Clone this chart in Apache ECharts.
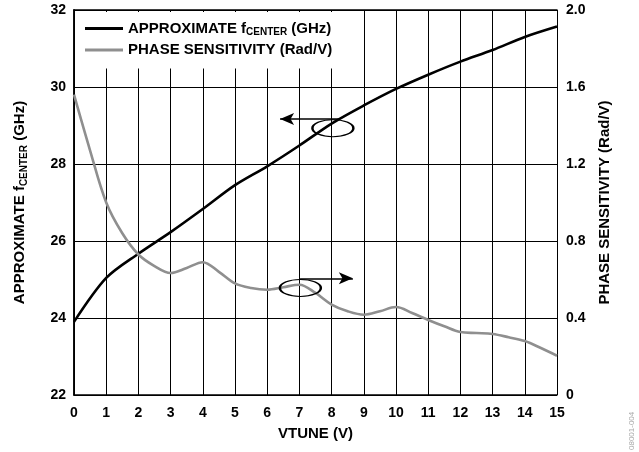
<!DOCTYPE html>
<html>
<head>
<meta charset="utf-8">
<script src="https://cdn.jsdelivr.net/npm/echarts@6/dist/echarts.min.js"></script>
<style>
html,body{margin:0;padding:0;background:#fff;}
#chart{width:639px;height:452px;}
</style>
</head>
<body>
<div id="chart"></div>
<script>
// Data
var vtuneF = [0,1,2,3,4,5,6,7,8,9,10,11,12,13,14,15];
var fCenter = [23.9,25.04,25.67,26.23,26.83,27.45,27.94,28.48,29.05,29.52,29.95,30.32,30.66,30.96,31.3,31.57];
var vtuneP = [0,0.5,1,1.5,2,2.5,3,3.5,4,4.5,5,5.5,6,6.5,7,7.5,8,8.5,9,9.5,10,10.5,11,11.5,12,12.5,13,13.5,14,14.5,15];
var phaseSens = [1.56,1.27,1.0,0.84,0.73,0.67,0.634,0.66,0.69,0.64,0.58,0.556,0.547,0.56,0.573,0.53,0.47,0.435,0.417,0.435,0.457,0.426,0.39,0.357,0.327,0.322,0.317,0.30,0.28,0.244,0.204];
var seriesNames = ['APPROXIMATE fCENTER (GHz)','PHASE SENSITIVITY (Rad/V)'];
// Annotation anchors (data coordinates)
var ellipseF = [8.04, 28.93];
var arrowF = [[8.26, 29.17],[6.4, 29.17]];
var ellipseP = [7.03, 0.556];
var arrowP = [[7.02, 0.606],[8.66, 0.606]];

function pairs(x, y){ return x.map(function(v,i){return [v, y[i]];}); }

var FONT = 'Liberation Sans, Arial, Helvetica, sans-serif';
var chart = echarts.init(document.getElementById('chart'), null, {renderer:'canvas'});
var tick = {color:'#000', fontFamily:FONT, fontWeight:'bold', fontSize:14};
var ttl = {color:'#000', fontFamily:FONT, fontWeight:'bold', fontSize:15};
var rich = {
  a:{color:'#000', fontFamily:FONT, fontWeight:'bold', fontSize:15},
  s:{color:'#000', fontFamily:FONT, fontWeight:'bold', fontSize:10, padding:[8,0,0,0]}
};

var option = {
  animation:false,
  backgroundColor:'#fff',
  grid:{left:74, right:82, top:10, bottom:57, show:false},
  legend:{
    left:75, top:12, orient:'vertical', itemGap:5,
    backgroundColor:'#fff', padding:[9,22,11,10],
    itemWidth:38, itemHeight:3, icon:'rect',
    data:seriesNames,
    textStyle:{color:'#000', fontFamily:FONT, fontWeight:'bold', fontSize:15, rich:rich},
    formatter:function(n){
      if(n===seriesNames[0]) return '{a|APPROXIMATE f}{s|CENTER}{a| (GHz)}';
      return '{a|' + n + '}';
    },
    z:10
  },
  xAxis:[{
    type:'value', min:0, max:15, interval:1, position:'bottom',
    name:'VTUNE (V)', nameLocation:'middle', nameGap:31,
    nameTextStyle:ttl,
    axisLine:{show:true, lineStyle:{color:'#000', width:1.5}},
    axisTick:{show:false},
    axisLabel:Object.assign({margin:11}, tick),
    splitLine:{show:true, lineStyle:{color:'#000', width:1}}
  },{
    type:'value', min:0, max:15, interval:1, position:'top',
    axisLine:{show:true, lineStyle:{color:'#000', width:1.5}},
    axisTick:{show:true, inside:true, length:4, lineStyle:{color:'#000'}},
    axisLabel:{show:false}, splitLine:{show:false}
  }],
  yAxis:[{
    type:'value', min:22, max:32, interval:2, position:'left',
    name:'{a|APPROXIMATE f}{s|CENTER}{a| (GHz)}', nameLocation:'middle', nameGap:45, nameRotate:90,
    nameTextStyle:{rich:rich},
    axisLine:{show:true, lineStyle:{color:'#000', width:1.5}},
    axisTick:{show:false},
    axisLabel:Object.assign({margin:8}, tick),
    splitLine:{show:true, lineStyle:{color:'#000', width:1}}
  },{
    type:'value', min:0, max:2, interval:0.4, position:'right',
    name:'PHASE SENSITIVITY (Rad/V)', nameLocation:'middle', nameGap:40, nameRotate:90,
    nameTextStyle:ttl,
    axisLine:{show:true, lineStyle:{color:'#000', width:1.5}},
    axisTick:{show:false},
    axisLabel:Object.assign({margin:9, formatter:function(v){return v===0?'0':v.toFixed(1);}}, tick),
    splitLine:{show:false}
  }],
  series:[{
    name:seriesNames[0], type:'line', xAxisIndex:0, yAxisIndex:0,
    data:pairs(vtuneF, fCenter), smooth:0.3, showSymbol:false,
    color:'#000', lineStyle:{color:'#000', width:2.6}, z:3,
    markPoint:{silent:true, symbol:'circle', symbolSize:[41,17],
      itemStyle:{color:'rgba(0,0,0,0)', borderColor:'#000', borderWidth:1.6},
      label:{show:false}, data:[{coord:ellipseF}]},
    markLine:{silent:true, symbol:['none','arrow'], symbolSize:[9,14],
      label:{show:false}, lineStyle:{color:'#000', width:1.6, type:'solid'},
      data:[[{coord:arrowF[0]},{coord:arrowF[1]}]]}
  },{
    name:seriesNames[1], type:'line', xAxisIndex:0, yAxisIndex:1,
    data:pairs(vtuneP, phaseSens), smooth:0.35, showSymbol:false,
    color:'#8f8f8f', lineStyle:{color:'#8f8f8f', width:2.6}, z:3,
    markPoint:{silent:true, symbol:'circle', symbolSize:[41,17],
      itemStyle:{color:'rgba(0,0,0,0)', borderColor:'#000', borderWidth:1.6},
      label:{show:false}, data:[{coord:ellipseP}]},
    markLine:{silent:true, symbol:['none','arrow'], symbolSize:[9,14],
      label:{show:false}, lineStyle:{color:'#000', width:1.6, type:'solid'},
      data:[[{coord:arrowP[0]},{coord:arrowP[1]}]]}
  }],
  graphic:[{
    type:'text', right:3, bottom:2, rotation:Math.PI/2,
    style:{text:'08001-004', fill:'#aaa', fontFamily:FONT, fontSize:8}
  }]
};
chart.setOption(option);
</script>
</body>
</html>
